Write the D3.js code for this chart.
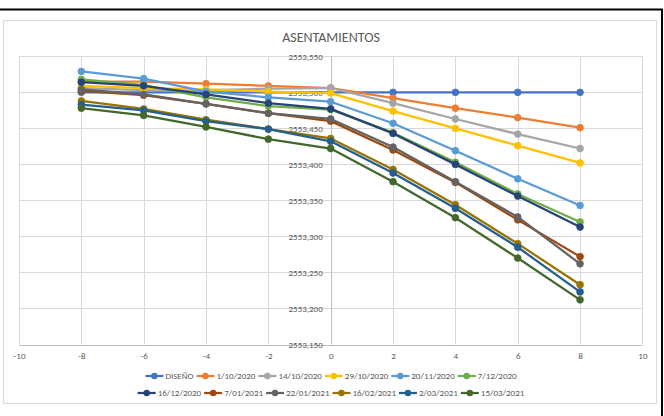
<!DOCTYPE html>
<html>
<head>
<meta charset="utf-8">
<script src="https://cdn.jsdelivr.net/npm/d3@7"></script>
<style>
html,body{margin:0;padding:0;background:#fff;}
svg{display:block;}
text{font-family:Carlito,Calibri,"Liberation Sans Narrow","Open Sans",sans-serif;fill:#595959;}
</style>
</head>
<body>
<svg id="chart" width="664" height="416"></svg>
<script>
const xValues = [-8, -6, -4, -2, 0, 2, 4, 6, 8];
const seriesNames = ["DISEÑO","1/10/2020","14/10/2020","29/10/2020","20/11/2020","7/12/2020",
                     "16/12/2020","7/01/2021","22/01/2021","16/02/2021","2/03/2021","15/03/2021"];
const seriesColors = ["#4472C4","#ED7D31","#A5A5A5","#FFC000","#5B9BD5","#70AD47",
                      "#264478","#9E480E","#636363","#997300","#255E91","#43682B"];
const diseno    = [2553.500,2553.500,2553.500,2553.500,2553.500,2553.500,2553.500,2553.500,2553.500];
const s01102020 = [2553.515,2553.515,2553.512,2553.509,2553.506,2553.492,2553.478,2553.465,2553.451];
const s14102020 = [2553.506,2553.503,2553.503,2553.505,2553.506,2553.485,2553.463,2553.442,2553.422];
const s29102020 = [2553.509,2553.506,2553.504,2553.501,2553.499,2553.474,2553.450,2553.426,2553.402];
const s20112020 = [2553.529,2553.519,2553.501,2553.493,2553.487,2553.457,2553.419,2553.380,2553.343];
const s07122020 = [2553.518,2553.510,2553.493,2553.481,2553.476,2553.444,2553.403,2553.359,2553.320];
const s16122020 = [2553.514,2553.509,2553.497,2553.485,2553.477,2553.443,2553.400,2553.356,2553.313];
const s07012021 = [2553.502,2553.496,2553.484,2553.471,2553.460,2553.420,2553.375,2553.323,2553.272];
const s22012021 = [2553.504,2553.497,2553.484,2553.471,2553.463,2553.424,2553.376,2553.327,2553.262];
const s16022021 = [2553.488,2553.477,2553.462,2553.449,2553.436,2553.393,2553.344,2553.290,2553.233];
const s02032021 = [2553.483,2553.475,2553.460,2553.449,2553.432,2553.388,2553.339,2553.285,2553.223];
const s15032021 = [2553.478,2553.468,2553.452,2553.435,2553.422,2553.376,2553.326,2553.270,2553.212];
const seriesValues = [diseno,s01102020,s14102020,s29102020,s20112020,s07122020,
                      s16122020,s07012021,s22012021,s16022021,s02032021,s15032021];
const xTicks = [-10,-8,-6,-4,-2,0,2,4,6,8,10];
const yTicks = [2553.15,2553.20,2553.25,2553.30,2553.35,2553.40,2553.45,2553.50,2553.55];
const yTickLabels = ["2553,150","2553,200","2553,250","2553,300","2553,350","2553,400","2553,450","2553,500","2553,550"];
const title = "ASENTAMIENTOS";

const svg = d3.select("#chart");
const x = d3.scaleLinear().domain([-10,10]).range([19,642.4]);
const y = d3.scaleLinear().domain([2553.15,2553.55]).range([344.5,56.3]);

// outer frame
svg.append("rect").attr("x",3.5).attr("y",20.5).attr("width",653).attr("height",383)
  .attr("fill","#fff").attr("stroke","#d9d9d9").attr("stroke-width",1);
svg.append("line").attr("x1",0).attr("x2",663).attr("y1",9.5).attr("y2",9.5).attr("stroke","#000").attr("stroke-width",2);
svg.append("line").attr("x1",662).attr("x2",662).attr("y1",9).attr("y2",416).attr("stroke","#000").attr("stroke-width",2);

// title
svg.append("text").attr("x",331).attr("y",42).attr("text-anchor","middle")
  .style("font-size","14px").text(title);

// gridlines
const g = svg.append("g");
g.append("g").selectAll("line").data(yTicks.slice(1)).join("line")
  .attr("x1",x(-10)).attr("x2",x(10))
  .attr("y1",d=>Math.round(y(d))+0.5).attr("y2",d=>Math.round(y(d))+0.5)
  .attr("stroke","#d9d9d9").attr("stroke-width",1);
g.append("g").selectAll("line").data(xTicks.filter(d=>d!==0)).join("line")
  .attr("x1",d=>Math.round(x(d))+0.5).attr("x2",d=>Math.round(x(d))+0.5)
  .attr("y1",y(2553.55)).attr("y2",y(2553.15))
  .attr("stroke","#d9d9d9").attr("stroke-width",1);

// axes lines
g.append("line").attr("x1",x(-10)).attr("x2",x(10))
  .attr("y1",Math.round(y(2553.15))+0.5).attr("y2",Math.round(y(2553.15))+0.5)
  .attr("stroke","#bfbfbf").attr("stroke-width",1);
g.append("line").attr("x1",Math.round(x(0))+0.5).attr("x2",Math.round(x(0))+0.5)
  .attr("y1",y(2553.55)).attr("y2",y(2553.15))
  .attr("stroke","#bfbfbf").attr("stroke-width",1);

// x axis labels
const xAxis = d3.axisBottom(x).tickValues(xTicks).tickSize(0).tickPadding(8).tickFormat(d=>String(d));
const xg = svg.append("g").attr("transform",`translate(0,${y(2553.15)})`).call(xAxis);
xg.select(".domain").remove();
xg.selectAll("text").style("font-size","9px").attr("fill","#595959").style("font-family",null);

// y axis labels
const yAxis = d3.axisLeft(y).tickValues(yTicks).tickSize(0).tickPadding(8)
  .tickFormat((d,i)=>yTickLabels[i]);
const yg = svg.append("g").attr("transform",`translate(${x(0)},0)`).call(yAxis);
yg.select(".domain").remove();
yg.selectAll("text").style("font-size","9px").attr("fill","#595959").style("font-family",null);

// series
const line = d3.line().x((d,i)=>x(xValues[i])).y(d=>y(d));
const sg = svg.append("g");
seriesValues.forEach((vals,si)=>{
  const c = seriesColors[si];
  sg.append("path").datum(vals).attr("d",line).attr("fill","none")
    .attr("stroke",c).attr("stroke-width",2.25).attr("stroke-linejoin","round");
  sg.append("g").selectAll("circle").data(vals).join("circle")
    .attr("cx",(d,i)=>x(xValues[i])).attr("cy",d=>y(d)).attr("r",3.4)
    .attr("fill",c).attr("stroke",c).attr("stroke-width",0.75);
});

// legend
const rows = [[0,1,2,3,4,5],[6,7,8,9,10,11]];
const rowY = [376,393];
const lg = svg.append("g");
rows.forEach((idxs,ri)=>{
  const row = lg.append("g");
  let cx = 0;
  idxs.forEach(si=>{
    const it = row.append("g").attr("transform",`translate(${cx},${rowY[ri]})`);
    it.append("line").attr("x1",0).attr("x2",18).attr("y1",0).attr("y2",0)
      .attr("stroke",seriesColors[si]).attr("stroke-width",2.25);
    it.append("circle").attr("cx",9).attr("cy",0).attr("r",3.2).attr("fill",seriesColors[si]);
    const t = it.append("text").attr("x",20).attr("y",0).attr("dy","0.35em")
      .style("font-size","9px").text(seriesNames[si]);
    const w = t.node().getComputedTextLength();
    cx += 20 + w + 3;
  });
  const total = cx - 3;
  row.attr("transform",`translate(${331 - total/2},0)`);
});
</script>
</body>
</html>
